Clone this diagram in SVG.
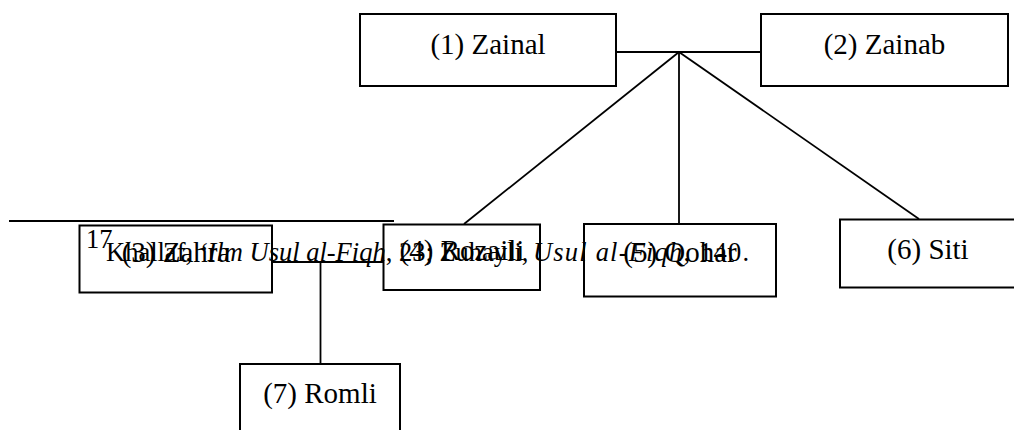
<svg xmlns="http://www.w3.org/2000/svg" width="1014" height="430" viewBox="0 0 1014 430">
  <style>
    .box { fill: #ffffff; stroke: #000000; stroke-width: 2; }
    .lbl { font-family: "Liberation Serif", "Times New Roman", serif; font-size: 29px; fill: #000000; text-anchor: middle; }
    .wire { stroke: #000000; stroke-width: 1.8; fill: none; }
    .note { font-family: "Liberation Serif", "Times New Roman", serif; font-size: 26.5px; fill: #000000; }
    .it { font-style: italic; }
  </style>

  <!-- family links -->
  <g id="connectors">
    <line class="wire" x1="616" y1="52" x2="761" y2="52"/>
    <line class="wire" x1="679" y1="52" x2="464" y2="224"/>
    <line class="wire" x1="679" y1="52" x2="679" y2="224"/>
    <line class="wire" x1="679" y1="52" x2="919" y2="219"/>
    <line class="wire" x1="272" y1="262" x2="384" y2="262"/>
    <line class="wire" x1="320.5" y1="262" x2="320.5" y2="364"/>
  </g>

  <g id="node1">
    <rect class="box" x="360" y="14" width="256" height="72"/>
    <text class="lbl" x="488" y="54">(1) Zainal</text>
  </g>
  <g id="node2">
    <rect class="box" x="761" y="14" width="247" height="72"/>
    <text class="lbl" x="884.5" y="54">(2) Zainab</text>
  </g>
  <g id="node3">
    <rect class="box" x="79.5" y="225.5" width="192.5" height="67"/>
    <text class="lbl" x="176" y="262">(3) Zahra</text>
  </g>
  <g id="node4">
    <rect class="box" x="383.5" y="224.5" width="156.5" height="65.5"/>
    <text class="lbl" x="462" y="260">(4) Rozaili</text>
  </g>
  <g id="node5">
    <rect class="box" x="584" y="224" width="192" height="72.5"/>
    <text class="lbl" x="680" y="262">(5) Qohar</text>
  </g>
  <g id="node6">
    <rect class="box" x="840" y="219.5" width="176" height="68"/>
    <text class="lbl" x="928" y="259">(6) Siti</text>
  </g>
  <g id="node7">
    <rect class="box" x="240" y="364" width="160" height="80"/>
    <text class="lbl" x="320" y="403">(7) Romli</text>
  </g>

  <!-- footnote rule and footnote text -->
  <g id="footnote">
    <line class="wire" x1="9" y1="221" x2="394" y2="221" stroke-width="2"/>
    <text class="note" x="86" y="248" font-size="14">17</text>
    <text class="note" x="106" y="261">Khallaf, <tspan class="it">ʻIlm Usul al-Fiqh</tspan>, 23; Zuhayli, </text>
    <text class="note" x="533" y="261" textLength="216" lengthAdjust="spacing"><tspan class="it">Usul al-Fiqh</tspan>, 140.</text>
  </g>
</svg>
